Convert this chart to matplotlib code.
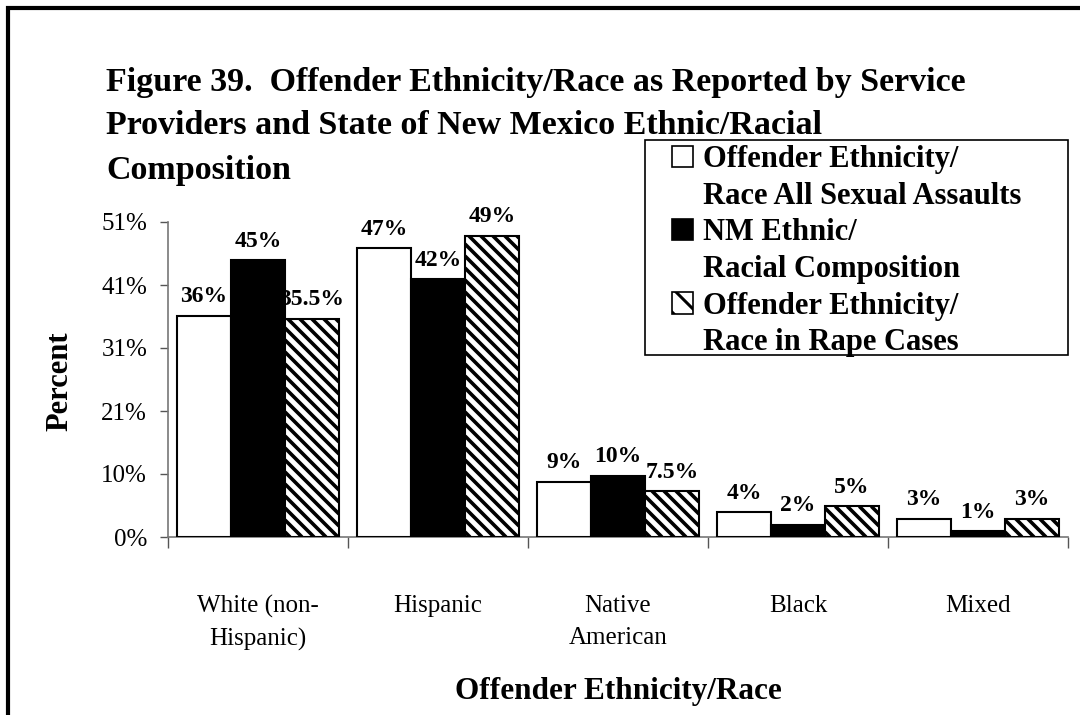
import matplotlib
matplotlib.use("Agg")
import matplotlib.pyplot as plt
from matplotlib.patches import Rectangle
from matplotlib.collections import LineCollection
from matplotlib.transforms import IdentityTransform
import numpy as np

categories = ["White (non-\nHispanic)", "Hispanic", "Native\nAmerican", "Black", "Mixed"]
all_assaults = [36, 47, 9, 4, 3]
nm_composition = [45, 42, 10, 2, 1]
rape_cases = [35.5, 49, 7.5, 5, 3]
label_all = ["36%", "47%", "9%", "4%", "3%"]
label_nm = ["45%", "42%", "10%", "2%", "1%"]
label_rape = ["35.5%", "49%", "7.5%", "5%", "3%"]
ytick_vals = [0, 10.25, 20.5, 30.75, 41, 51.25]
ytick_labels = ["0%", "10%", "21%", "31%", "41%", "51%"]
legend_lines = [["Offender Ethnicity/", "Race All Sexual Assaults"],
                ["NM Ethnic/", "Racial Composition"],
                ["Offender Ethnicity/", "Race in Rape Cases"]]

W, H = 1080, 715
DPI = 72
K = 100 / 72  # sizes below are designed for 100 dpi


def pt(v):
    return v * K


plt.rcParams['hatch.linewidth'] = 3.0
fig = plt.figure(figsize=(W / DPI, H / DPI), dpi=DPI)
serif = ["Liberation Serif", "DejaVu Serif"]


def fx(px):
    return px / W


def fy(py):
    return 1 - py / H


ax_l, ax_r, ax_t, ax_b = 168, 1068, 222, 537
ax = fig.add_axes([fx(ax_l), fy(ax_b), fx(ax_r - ax_l), (ax_b - ax_t) / H])

n = len(categories)
x = np.arange(n)
bw = 0.3
ax.set_xlim(0, n)
ax.set_ylim(0, ytick_vals[-1])

series = [
    (all_assaults, label_all, dict(facecolor="white", edgecolor="black"), False),
    (nm_composition, label_nm, dict(facecolor="black", edgecolor="black"), False),
    (rape_cases, label_rape, dict(facecolor="white", edgecolor="black"), True),
]


def hatch_bar(bar, period=12.0, lw=3.6):
    # diagonal "\" stripes inside the bar, computed from its pixel extent
    bb = bar.get_window_extent()
    x0, y0, x1, y1 = bb.x0, bb.y0, bb.x1, bb.y1
    segs = []
    for k in np.arange(np.floor((x0 + y0) / period), np.ceil((x1 + y1) / period) + 1):
        c = k * period
        xs = max(x0, c - y1)
        xe = min(x1, c - y0)
        if xe > xs:
            segs.append([(xs, c - xs), (xe, c - xe)])
    lc = LineCollection(segs, colors="black", linewidths=lw, transform=IdentityTransform(),
                        zorder=3.2, capstyle="butt")
    ax.add_collection(lc, autolim=False)
    lc.set_clip_path(bar)


bar_groups = []
for j, (vals, labs, style, hatched) in enumerate(series):
    pos = x + 0.05 + bw * j + bw / 2
    bars = ax.bar(pos, vals, width=bw, linewidth=pt(1.5), zorder=3, **style)
    bar_groups.append((bars, labs, hatched))

for bars, labs, hatched in bar_groups:
    for b, lab in zip(bars, labs):
        if hatched:
            hatch_bar(b)
        ax.annotate(lab, (b.get_x() + b.get_width() / 2, b.get_height()),
                    xytext=(0, pt(6)), textcoords="offset points",
                    ha="center", va="bottom", fontsize=pt(17), fontweight="bold",
                    family=serif, zorder=5)

ax.set_yticks(ytick_vals)
ax.set_yticklabels(ytick_labels, family=serif, fontsize=pt(18))
ax.set_xticks(np.arange(n + 1))
ax.set_xticklabels([])
ax.set_xticks(x + 0.5, minor=True)
ax.set_xticklabels(categories, minor=True, family=serif, fontsize=pt(18), linespacing=1.55)
ax.tick_params(axis="x", which="minor", length=0, pad=pt(42))
ax.tick_params(axis="x", which="major", length=pt(8), width=pt(1), color="#555555", direction="out")
ax.tick_params(axis="y", length=pt(6), width=pt(1), color="#555555", pad=pt(9))
for s in ["top", "right"]:
    ax.spines[s].set_visible(False)
for s in ["left", "bottom"]:
    ax.spines[s].set_color("#777777")
    ax.spines[s].set_linewidth(pt(1.2))

# axis titles
ax.text(0.5, (ax_b - 692) / (ax_b - ax_t), "Offender Ethnicity/Race", transform=ax.transAxes,
        ha="center", va="center", fontsize=pt(22.5), fontweight="bold", family=serif)
ax.text((60 - ax_l) / (ax_r - ax_l), (ax_b - 381) / (ax_b - ax_t), "Percent", transform=ax.transAxes,
        ha="center", va="center", rotation=90, fontsize=pt(22), fontweight="bold", family=serif)

# title
title_lines = ["Figure 39.  Offender Ethnicity/Race as Reported by Service",
               "Providers and State of New Mexico Ethnic/Racial",
               "Composition"]
for i, t in enumerate(title_lines):
    fig.text(fx(106), fy(82 + 44 * i), t, ha="left", va="center", fontsize=pt(24.5),
             fontweight="bold", family=serif)

# legend
handles = []
labels = []
for (vals, labs, st, hatched), lines in zip(series, legend_lines):
    handles.append(Rectangle((0, 0), 1, 1, facecolor=st["facecolor"], edgecolor="black",
                             hatch="\\" if hatched else None, linewidth=pt(1.2)))
    labels.append(lines[0])
    handles.append(Rectangle((0, 0), 1, 1, facecolor="none", edgecolor="none"))
    labels.append(lines[1])
leg = fig.legend(handles, labels, loc="upper left",
                 bbox_to_anchor=(fx(672), fy(145)),
                 borderaxespad=0, frameon=False,
                 prop=dict(family=serif, weight="bold", size=pt(22)),
                 handlelength=0.7, handleheight=0.7, handletextpad=0.3,
                 labelspacing=0.25, borderpad=0)
fig.patches.append(Rectangle((fx(645), fy(355)), fx(1068 - 645), (355 - 140) / H,
                             transform=fig.transFigure, fill=False, edgecolor="black",
                             linewidth=pt(1.2)))

# outer border
fig.patches.append(Rectangle((fx(8), -0.2), 1.5, fy(7.5) + 0.2, transform=fig.transFigure,
                             fill=False, edgecolor="black", linewidth=pt(3.0)))

fig.savefig("out.png", dpi=DPI)
